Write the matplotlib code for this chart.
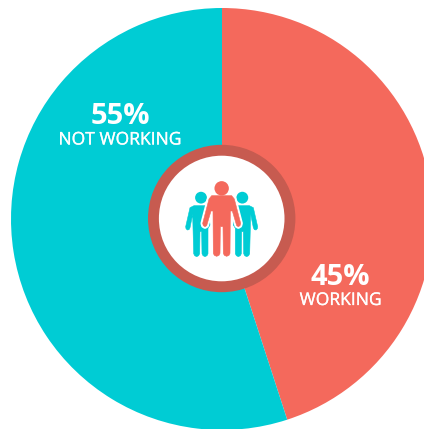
import matplotlib
matplotlib.use('Agg')
import matplotlib.pyplot as plt
import matplotlib.patheffects as pe
from matplotlib.patches import Circle, Polygon

W, H = 424, 429

labels = ['WORKING', 'NOT WORKING']
shares = [45, 55]
colors = ['#f4695c', '#00ccd4']

RING = '#c75b50'

# half outlines of the icon figures, on a 3x grid anchored at (180, 175)
MID_AXIS = 125
MID_HALF = [(125, 62), (155, 62), (163, 72), (182, 145), (180, 152), (175, 155), (170, 152), (157, 108),
            (151, 108), (150, 235), (147, 241), (140, 244), (133, 241), (130, 235), (129, 155)]
SIDE_SHAPE = [(42, 92), (84, 92), (90, 150), (84, 160), (84, 236), (81, 242), (75, 245), (69, 242),
              (66, 236), (65, 170), (60, 170), (59, 236), (56, 242), (50, 245), (44, 242), (41, 236),
              (38, 118), (30, 158), (27, 164), (22, 165), (18, 161), (17, 155), (30, 98)]


def py(y):
    # positions below are measured from the top edge
    return H - y


def grid(pts):
    return [(180 + x / 3, py(175 + y / 3)) for x, y in pts]


def mirror(pts, axis=MID_AXIS):
    return [(2 * axis - x, y) for x, y in pts]


fig = plt.figure(figsize=(W / 100, H / 100), dpi=100)
ax = fig.add_axes([0, 0, 1, 1])

ax.pie(shares, colors=colors, startangle=90, counterclock=False,
       center=(222, py(219)), radius=211, frame=True)
ax.set_xlim(0, W)
ax.set_ylim(0, H)
ax.set_aspect('equal')
ax.axis('off')

# centre badge
ax.add_patch(Circle((221.7, py(218.5)), 73.7, fc=RING, ec='none', zorder=3))
ax.add_patch(Circle((221.7, py(218.5)), 62.8, fc='white', ec='none', zorder=4))

# two side figures behind the middle one
teal, coral = colors[1], colors[0]
for shape, hx in [(SIDE_SHAPE, 63), (mirror(SIDE_SHAPE), 187)]:
    ax.add_patch(Polygon(grid(shape), closed=True, fc=teal, ec=teal, lw=0.4,
                         joinstyle='round', zorder=5))
    ax.add_patch(Circle(grid([(hx, 68)])[0], 5.9, fc=teal, ec='none', zorder=5))

# middle figure with a white halo
mid = MID_HALF + mirror(MID_HALF)[::-1]
ax.add_patch(Polygon(grid(mid), closed=True, fc='white', ec='white', lw=3.2,
                     joinstyle='round', zorder=6))
ax.add_patch(Polygon(grid(mid), closed=True, fc=coral, ec=coral, lw=0.4,
                     joinstyle='round', zorder=7))
ax.add_patch(Circle(grid([(MID_AXIS, 40)])[0], 7.2, fc=coral, ec='none', zorder=7))

font = ['Open Sans', 'DejaVu Sans']
heavier = [pe.withStroke(linewidth=0.2, foreground='white')]
for x, y, share, label in [(120, 117, shares[1], labels[1]), (340.7, 277.5, shares[0], labels[0])]:
    ax.text(x, py(y), f'{share}%', color='white', fontsize=21, fontweight='bold',
            family=font, ha='center', va='center', zorder=8)
    ax.text(x, py(y + 23.5), label, color='white', fontsize=12.6, family=font,
            ha='center', va='center', zorder=8, path_effects=heavier)

fig.savefig('out.png', dpi=100, facecolor='white')
